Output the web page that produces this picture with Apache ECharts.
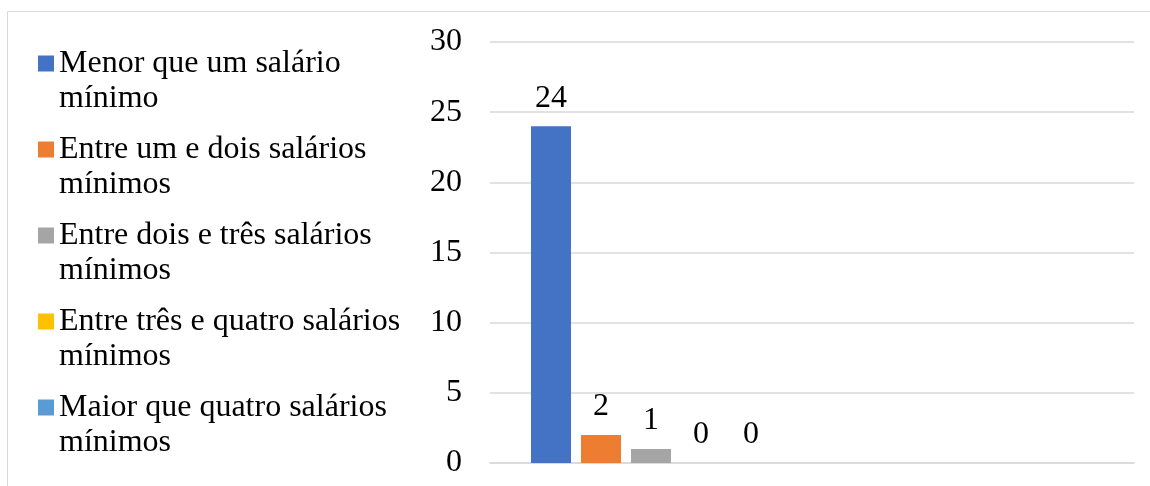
<!DOCTYPE html>
<html>
<head>
<meta charset="utf-8">
<script src="https://cdn.jsdelivr.net/npm/echarts@6/dist/echarts.min.js"></script>
<style>
  html, body { margin: 0; padding: 0; background: #fff; }
  #chart { width: 1150px; height: 486px; }
</style>
</head>
<body>
<div id="chart"></div>
<script>
// Income bands (legend entries) and their counts
const seriesNames = [
  'Menor que um salário\nmínimo',
  'Entre um e dois salários\nmínimos',
  'Entre dois e três salários\nmínimos',
  'Entre três e quatro salários\nmínimos',
  'Maior que quatro salários\nmínimos'
];
const seriesValues = [24, 2, 1, 0, 0];
const seriesColors = ['#4472C4', '#ED7D31', '#A5A5A5', '#FFC000', '#5B9BD5'];
// Two category slots; only the first one holds data
const categories = ['1', '2'];
const yTicks = { min: 0, max: 30, interval: 5 };

const FONT = '"Liberation Serif", "Times New Roman", serif';
const FS = 32;

const chart = echarts.init(document.getElementById('chart'));

const series = seriesNames.map((name, i) => ({
  name: name,
  type: 'bar',
  data: [seriesValues[i], null],
  barWidth: 40,
  barGap: '25%',
  itemStyle: { color: seriesColors[i] },
  label: {
    show: true,
    position: 'top',
    distance: 12,
    color: '#000',
    fontFamily: FONT,
    fontSize: FS
  }
}));

chart.setOption({
  animation: false,
  backgroundColor: '#fff',
  graphic: [{
    type: 'rect',
    shape: { x: 7.5, y: 11.5, width: 1200, height: 600 },
    style: { fill: 'none', stroke: '#d9d9d9', lineWidth: 1 },
    silent: true
  }],
  legend: {
    orient: 'vertical',
    left: 33,
    top: 6,
    itemGap: -19,
    itemWidth: 16,
    itemHeight: 16,
    icon: 'rect',
    selectedMode: false,
    data: seriesNames,
    // leading blank line keeps the swatch level with the first text line
    formatter: name => '\n' + name,
    textStyle: {
      fontFamily: FONT,
      fontSize: FS,
      color: '#000',
      lineHeight: 35
    }
  },
  grid: { left: 490, right: 16, top: 42, bottom: 23 },
  xAxis: {
    type: 'category',
    data: categories,
    axisLine: { show: true, lineStyle: { color: '#d9d9d9', width: 1.5 } },
    axisTick: { show: false },
    axisLabel: { show: false }
  },
  yAxis: {
    type: 'value',
    min: yTicks.min,
    max: yTicks.max,
    interval: yTicks.interval,
    axisLine: { show: false },
    axisTick: { show: false },
    splitLine: { lineStyle: { color: '#d9d9d9', width: 1.5 } },
    axisLabel: {
      margin: 28,
      color: '#000',
      fontFamily: FONT,
      fontSize: FS
    }
  },
  series: series
});
</script>
</body>
</html>
